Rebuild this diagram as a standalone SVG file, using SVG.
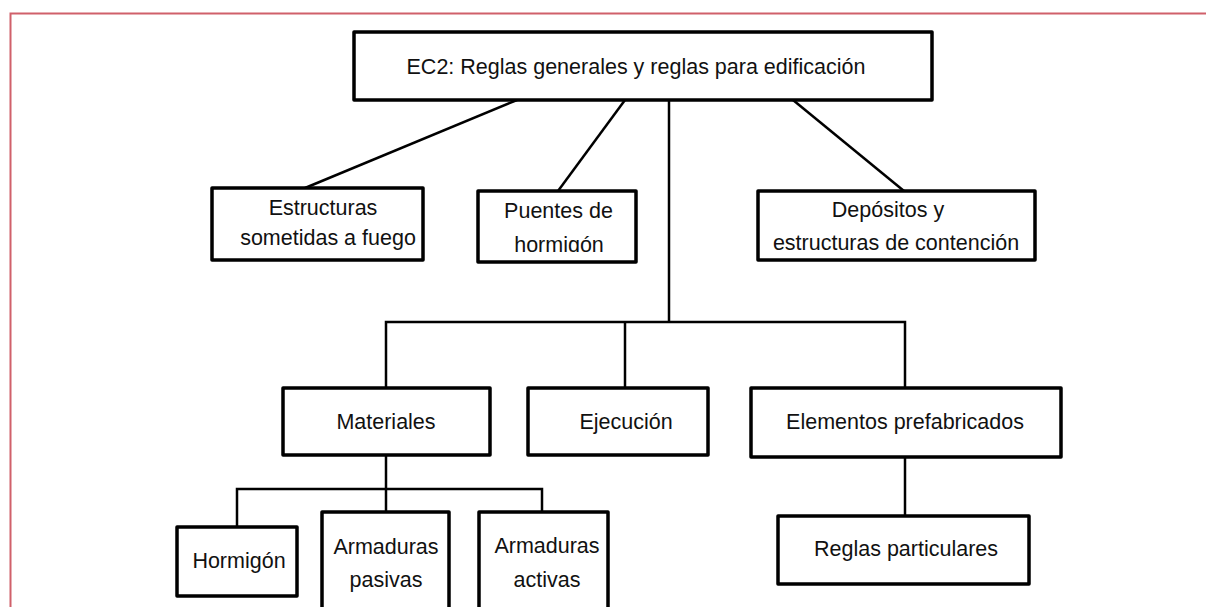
<svg xmlns="http://www.w3.org/2000/svg" width="1206" height="607" viewBox="0 0 1206 607">
<style>
.box{fill:#fff;stroke:#000;stroke-width:3.5;stroke-linejoin:round}
.con{fill:none;stroke:#000;stroke-width:2.5}
.t{font-family:"Liberation Sans",Arial,sans-serif;font-size:21.5px;fill:#111;text-anchor:middle}
</style>
<defs>
<clipPath id="clipPuentes"><rect x="478" y="191" width="158" height="61"/></clipPath>
</defs>
<rect width="1206" height="607" fill="#fff"/>
<path d="M10.5,607 V13.5 H1206" fill="none" stroke="#d0606a" stroke-width="2"/>
<g id="connectors">
<line class="con" x1="517" y1="100" x2="305" y2="188"/>
<line class="con" x1="625" y1="100" x2="558" y2="191"/>
<line class="con" x1="793" y1="100" x2="904" y2="191"/>
<line class="con" x1="669" y1="100" x2="669" y2="322"/>
<polyline class="con" points="386,388 386,322 905,322 905,388"/>
<line class="con" x1="625" y1="322" x2="625" y2="388"/>
<line class="con" x1="386" y1="455" x2="386" y2="512"/>
<polyline class="con" points="237,527 237,489 542,489 542,512"/>
<line class="con" x1="905" y1="457" x2="905" y2="516"/>
</g>
<g id="n-top">
<rect class="box" x="354" y="32" width="578" height="68"/>
<text class="t" x="636" y="74">EC2: Reglas generales y reglas para edificación</text>
</g>
<g id="n-fuego">
<rect class="box" x="212" y="188" width="211" height="72"/>
<text class="t" x="323" y="215">Estructuras</text>
<text class="t" x="328" y="245">sometidas a fuego</text>
</g>
<g id="n-puentes">
<rect class="box" x="478" y="191" width="158" height="71"/>
<text class="t" x="558.5" y="218">Puentes de</text>
<text class="t" x="559" y="252" clip-path="url(#clipPuentes)">hormigón</text>
</g>
<g id="n-depositos">
<rect class="box" x="758" y="191" width="277" height="69"/>
<text class="t" x="888" y="217">Depósitos y</text>
<text class="t" x="896" y="250">estructuras de contención</text>
</g>
<g id="n-materiales">
<rect class="box" x="283" y="388" width="207" height="67"/>
<text class="t" x="386" y="429">Materiales</text>
</g>
<g id="n-ejecucion">
<rect class="box" x="528" y="388" width="180" height="67"/>
<text class="t" x="626" y="429">Ejecución</text>
</g>
<g id="n-prefabricados">
<rect class="box" x="751" y="388" width="310" height="69"/>
<text class="t" x="905" y="429">Elementos prefabricados</text>
</g>
<g id="n-reglas">
<rect class="box" x="778" y="516" width="251" height="68"/>
<text class="t" x="906" y="556">Reglas particulares</text>
</g>
<g id="n-hormigon">
<rect class="box" x="177" y="527" width="120" height="69"/>
<text class="t" x="239" y="568">Hormigón</text>
</g>
<g id="n-pasivas">
<rect class="box" x="322" y="512" width="127" height="110"/>
<text class="t" x="386" y="554">Armaduras</text>
<text class="t" x="386" y="587">pasivas</text>
</g>
<g id="n-activas">
<rect class="box" x="479" y="512" width="129" height="110"/>
<text class="t" x="547" y="553">Armaduras</text>
<text class="t" x="547" y="587">activas</text>
</g>
</svg>
